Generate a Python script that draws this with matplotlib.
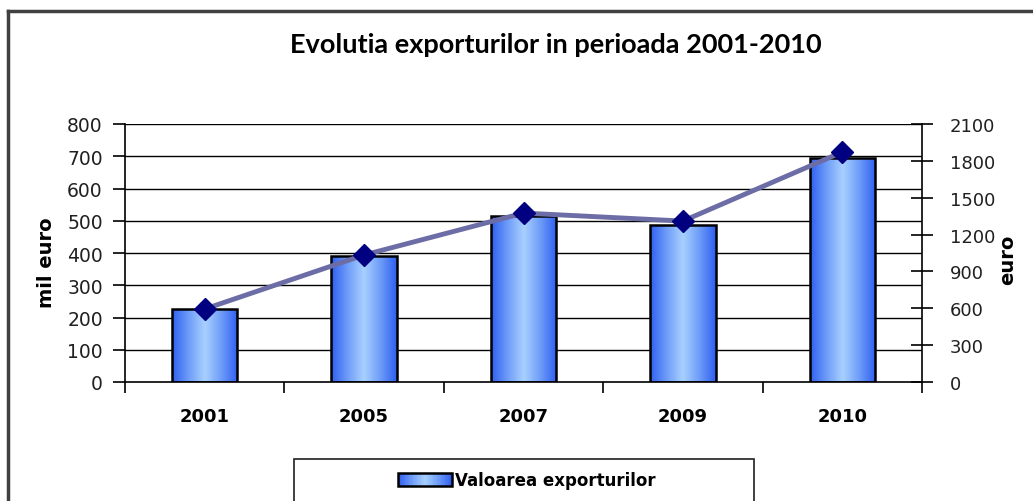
import matplotlib
matplotlib.use("Agg")
import matplotlib.pyplot as plt
import numpy as np
from matplotlib.colors import LinearSegmentedColormap
from matplotlib.patches import Rectangle
from matplotlib.lines import Line2D
from matplotlib.legend_handler import HandlerBase

years = ["2001", "2005", "2007", "2009", "2010"]
export_values = [226, 390, 515, 487, 694]          # mil euro (left axis)
export_per_capita = [594, 1034, 1375, 1310, 1872]  # euro (right axis)
left_ticks = [0, 100, 200, 300, 400, 500, 600, 700, 800]
right_ticks = [0, 300, 600, 900, 1200, 1500, 1800, 2100]

W, H = 1033, 502
fig = plt.figure(figsize=(W / 100, H / 100), dpi=100)
fig.patch.set_facecolor("white")

cmap = LinearSegmentedColormap.from_list("bargrad", ["#2f5ff0", "#6e9cf8", "#a8d0ff", "#6e9cf8", "#2f5ff0"])

# outer chart border
fig.add_artist(Line2D([8/W, 8/W], [0, 1 - 12/H], transform=fig.transFigure,
                      color="#404040", lw=2.5))
fig.add_artist(Line2D([8/W, 1.0], [1 - 12/H, 1 - 12/H], transform=fig.transFigure,
                      color="#404040", lw=2.5))

ax = fig.add_axes([125/W, 1 - 383/H, (922 - 125)/W, (383 - 125)/H])
ax.set_xlim(-0.5, len(years) - 0.5)
ax.set_ylim(0, 800)
ax.set_yticks(left_ticks)
ax.set_yticklabels([str(v) for v in left_ticks], fontsize=13.5, family="DejaVu Sans", color="#202020")
for y in left_ticks[1:]:
    ax.axhline(y, color="black", lw=1.0, zorder=0)
for s in ["top", "right"]:
    ax.spines[s].set_visible(False)
ax.spines["left"].set_linewidth(1.2)
ax.spines["bottom"].set_linewidth(1.2)
ax.tick_params(axis="y", direction="out", length=9, width=1.2, pad=7)

# category ticks at boundaries
ax.set_xticks(np.arange(len(years) + 1) - 0.5, minor=False)
ax.set_xticklabels([])
ax.tick_params(axis="x", which="major", direction="out", length=8, width=1.2)
ax.set_xticks(np.arange(len(years)), minor=True)
ax.set_xticklabels(years, minor=True, fontsize=13, fontweight="bold", family="DejaVu Sans")
ax.tick_params(axis="x", which="minor", length=0, pad=18)

ax.set_ylabel("mil euro", fontsize=14, fontweight="bold", family="DejaVu Sans")
ax.yaxis.set_label_coords((56 - 125) / 797, (383 - 263) / 258)

# gradient bars
grad = np.linspace(0, 1, 256).reshape(1, -1)
bar_w = 0.41
bars = ax.bar(range(len(years)), export_values, width=bar_w, facecolor="none",
              edgecolor="black", linewidth=1.8, zorder=3)
for b in bars:
    x0, y0 = b.get_x(), b.get_y()
    w, h = b.get_width(), b.get_height()
    im = ax.imshow(grad, cmap=cmap, aspect="auto", extent=[x0, x0 + w, y0, y0 + h],
                   zorder=2, interpolation="bicubic")
    clip = Rectangle((x0, y0), w, h, transform=ax.transData)
    im.set_clip_path(clip)
ax.set_xlim(-0.5, len(years) - 0.5)
ax.set_ylim(0, 800)

# secondary axis
ax2 = ax.twinx()
ax2.set_ylim(0, 2100)
ax2.set_yticks(right_ticks)
ax2.set_yticklabels([str(v) for v in right_ticks], fontsize=13, family="DejaVu Sans", color="#202020")
for s in ["top", "left", "bottom"]:
    ax2.spines[s].set_visible(False)
ax2.spines["right"].set_linewidth(1.2)
ax2.tick_params(axis="y", direction="inout", length=16, width=1.2, pad=12)
ax2.set_ylabel("euro", fontsize=14, fontweight="bold", family="DejaVu Sans")
ax2.yaxis.set_label_coords((998 - 125) / 797, (383 - 260) / 258)
ax2.plot(range(len(years)), export_per_capita, color="#6c6ca6", lw=3.5, zorder=4,
         marker="D", markersize=11, markerfacecolor="#000080", markeredgecolor="#000080")

fig.text(556/W, 1 - 45/H, "Evolutia exporturilor in perioada 2001-2010", ha="center", va="center",
         fontsize=19.5, fontweight="bold", family="Lato")


class GradientHandler(HandlerBase):
    def create_artists(self, legend, orig_handle, xdescent, ydescent, width, height, fontsize, trans):
        n = 40
        arts = []
        for i in range(n):
            c = cmap((i + 0.5) / n)
            arts.append(Rectangle((-xdescent + width * i / n, -ydescent), width / n + 0.3, height,
                                  facecolor=c, edgecolor="none", transform=trans))
        arts.append(Rectangle((-xdescent, -ydescent), width, height, facecolor="none",
                              edgecolor="black", lw=1.8, transform=trans))
        return arts


# legend: frame drawn as figure rectangle, entry centred inside
fig.add_artist(Rectangle((294/W, 0 - 10/H), (754 - 294)/W, (502 - 460 + 10)/H,
                         transform=fig.transFigure, facecolor="white",
                         edgecolor="#202020", lw=1.2, zorder=1))
handle = Rectangle((0, 0), 1, 1)
leg = fig.legend([handle], ["Valoarea exporturilor"], loc="center",
                 bbox_to_anchor=(527/W, 1 - 481/H), frameon=False,
                 prop={"family": "DejaVu Sans", "size": 12, "weight": "bold"},
                 handlelength=3.2, handleheight=0.8,
                 borderpad=0.0, handletextpad=0.2,
                 handler_map={Rectangle: GradientHandler()})
leg.set_zorder(2)

fig.savefig("out.png", dpi=100)
